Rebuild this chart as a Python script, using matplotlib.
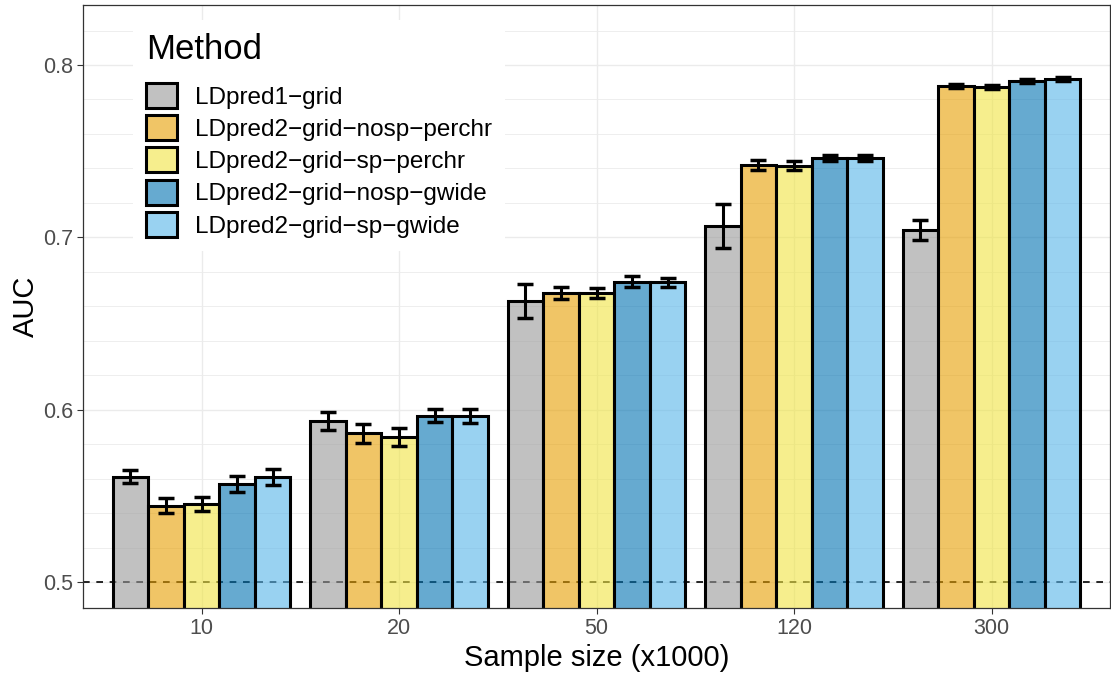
from matplotlib import pyplot as plt
from matplotlib.patches import Patch
from matplotlib.colors import to_rgba
import numpy as np

plt.rcParams['font.family'] = ['Liberation Sans', 'DejaVu Sans']

# 数据
sizes = ['10', '20', '50', '120', '300']
methods = ['LDpred1\u2212grid', 'LDpred2\u2212grid\u2212nosp\u2212perchr',
           'LDpred2\u2212grid\u2212sp\u2212perchr', 'LDpred2\u2212grid\u2212nosp\u2212gwide',
           'LDpred2\u2212grid\u2212sp\u2212gwide']
colors = ['#999999', '#E69F00', '#F0E442', '#0072B2', '#56B4E9']

auc_ldpred1 = [0.5610, 0.5935, 0.6630, 0.7065, 0.7040]
auc_nosp_perchr = [0.5443, 0.5863, 0.6676, 0.7420, 0.7880]
auc_sp_perchr = [0.5453, 0.5843, 0.6679, 0.7416, 0.7874]
auc_nosp_gwide = [0.5567, 0.5965, 0.6743, 0.7459, 0.7909]
auc_sp_gwide = [0.5609, 0.5963, 0.6739, 0.7459, 0.7917]

err_ldpred1 = [0.0037, 0.0053, 0.0097, 0.0126, 0.0058]
err_nosp_perchr = [0.0042, 0.0055, 0.0034, 0.0027, 0.0012]
err_sp_perchr = [0.0039, 0.0053, 0.0029, 0.0028, 0.0012]
err_nosp_gwide = [0.0046, 0.0039, 0.0031, 0.0016, 0.0012]
err_sp_gwide = [0.0044, 0.0038, 0.0027, 0.0016, 0.0012]

aucs = [auc_ldpred1, auc_nosp_perchr, auc_sp_perchr, auc_nosp_gwide, auc_sp_gwide]
errs = [err_ldpred1, err_nosp_perchr, err_sp_perchr, err_nosp_gwide, err_sp_gwide]

fig = plt.figure(figsize=(11.11, 6.75), dpi=100)
ax = fig.add_axes([83 / 1111, 1 - 608 / 675, 1027 / 1111, 603 / 675])

x = np.arange(len(sizes))
bw = 0.18

# 0.5 参考线（画在柱子下面）
ax.axhline(0.5, color='black', linestyle=(0, (4, 4)), linewidth=1.2, zorder=1.5)

for j in range(len(methods)):
    xs = x + (j - 2) * bw
    ax.bar(xs, aucs[j], width=bw, facecolor=to_rgba(colors[j], 0.6),
           edgecolor='black', linewidth=2.2, zorder=2)
    ax.errorbar(xs, aucs[j], yerr=errs[j], fmt='none', ecolor='black',
                elinewidth=2.2, capsize=5.5, capthick=2.5, zorder=3)

ax.set_xticks(x, sizes)
ax.set_yticks(np.arange(0.5, 0.81, 0.1), ['0.5', '0.6', '0.7', '0.8'])
ax.set_yticks(np.arange(0.48, 0.84, 0.02), minor=True)
# set_yticks 会扩展范围，所以最后再设范围
ax.set_xlim(-0.6, 4.6)
ax.set_ylim(0.4849, 0.8348)

# 网格
ax.set_axisbelow(True)
ax.grid(which='major', color='#EBEBEB', linewidth=1.0)
ax.grid(which='minor', axis='y', color='#EBEBEB', linewidth=0.6)

ax.tick_params(which='major', length=4, width=0.8, color='#333333',
               labelcolor='#4D4D4D', labelsize=15.5, pad=3)
ax.tick_params(which='minor', length=0)
for s in ax.spines.values():
    s.set_color('#333333')
    s.set_linewidth(0.9)

ax.set_xlabel('Sample size (x1000)', fontsize=21, labelpad=4)
ax.set_ylabel('AUC', fontsize=21, labelpad=2)

# 图例
handles = [Patch(facecolor=to_rgba(c, 0.6), edgecolor='black', linewidth=2.2)
           for c in colors]
leg = ax.legend(handles, methods, title='Method', loc='upper left',
                bbox_to_anchor=(50 / 1027, 1 - 15 / 603), fontsize=17.5,
                title_fontsize=25, alignment='left', frameon=True,
                fancybox=False, framealpha=1, edgecolor='none',
                handlelength=1.27, handleheight=1.2, labelspacing=0.27,
                handletextpad=0.72, borderpad=0.55, borderaxespad=0)
leg._legend_box.sep = 12

plt.savefig('out.png', dpi=100)
